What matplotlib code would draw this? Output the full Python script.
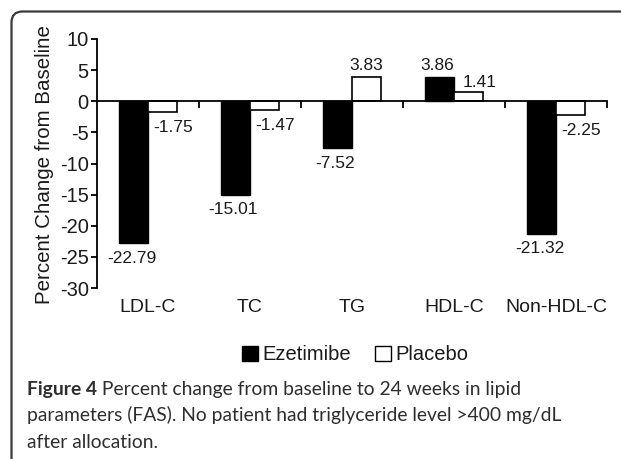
import numpy as np
import matplotlib
matplotlib.use('Agg')
import matplotlib.pyplot as plt
from matplotlib.patches import Patch, FancyBboxPatch
from matplotlib.transforms import IdentityTransform, blended_transform_factory

# Dados
categorias = ['LDL-C', 'TC', 'TG', 'HDL-C', 'Non-HDL-C']
ezetimibe = [-22.79, -15.01, -7.52, 3.86, -21.32]
placebo = [-1.75, -1.47, 3.83, 1.41, -2.25]
series = ['Ezetimibe', 'Placebo']
yticks = [10, 5, 0, -5, -10, -15, -20, -25, -30]

legenda_fig = 'Figure 4'
legenda_txt = [' Percent change from baseline to 24 weeks in lipid',
               'parameters (FAS). No patient had triglyceride level >400 mg/dL',
               'after allocation.']

plt.rcParams['font.family'] = ['Liberation Sans', 'DejaVu Sans']
cor_txt = '#1a1a1a'

fig = plt.figure(figsize=(6.21, 4.59), dpi=100)

# moldura arredondada (em pixels)
moldura = FancyBboxPatch((11.5, -30), 660, 459 - 11.5 + 30,
                         boxstyle='round,pad=0,rounding_size=11',
                         transform=IdentityTransform(), fill=False,
                         edgecolor='#3a3a3a', linewidth=1.6)
fig.patches.append(moldura)

ax = fig.add_axes([97 / 621, 1 - 288 / 459, 510 / 621, 249 / 459])

x = np.arange(len(categorias))
w = 0.285
b1 = ax.bar(x - w / 2, ezetimibe, w, color='black', edgecolor='black', linewidth=1.0)
b2 = ax.bar(x + w / 2, placebo, w, color='white', edgecolor='black', linewidth=1.2)

ax.set_xlim(-0.5, len(categorias) - 0.5)
ax.set_ylim(-30, 10)
ax.set_yticks(yticks)
ax.set_yticklabels([str(t) for t in yticks], fontsize=14.5, color=cor_txt)
ax.tick_params(axis='y', direction='out', length=4, width=1.3, pad=2)

ax.spines['top'].set_visible(False)
ax.spines['right'].set_visible(False)
ax.spines['left'].set_linewidth(1.3)
ax.spines['bottom'].set_position(('data', 0))
ax.spines['bottom'].set_linewidth(1.3)
ax.set_xticks(x + 0.5)
ax.set_xticklabels([])
ax.tick_params(axis='x', direction='out', length=5, width=1.3)

trans = blended_transform_factory(ax.transData, ax.transAxes)
for xi, nome in zip(x, categorias):
    ax.text(xi, -0.077, nome, transform=trans, ha='center', va='center',
            fontsize=14, color=cor_txt)

# rótulos de valores
for barras, vals, serie in [(b1, ezetimibe, 0), (b2, placebo, 1)]:
    for r, v in zip(barras, vals):
        cx = r.get_x() + r.get_width() / 2
        dx = -2 if serie == 0 else 0
        if serie == 1 and abs(v) < 3:
            dx = 11
        dy = 12 if v > 0 else -15
        if serie == 1 and 0 < v < 3:
            dy = 10
        ax.annotate(f'{v:.2f}', (cx, v), xytext=(dx, dy), textcoords='offset pixels',
                    ha='center', va='center', fontsize=12.5, color=cor_txt)

ax.set_ylabel('Percent Change from Baseline', fontsize=14.8, color=cor_txt)
ax.yaxis.set_label_coords(-0.085, 0.495)

handles = [Patch(facecolor='black', edgecolor='black'),
           Patch(facecolor='white', edgecolor='black', linewidth=1.0)]
fig.legend(handles, series, loc='center', bbox_to_anchor=(355 / 621, 1 - 355 / 459),
           ncol=2, frameon=False, fontsize=14.5, handlelength=0.8, handleheight=0.8,
           handletextpad=0.2, columnspacing=1.2, labelcolor=cor_txt)

# legenda da figura
cor_cap = '#2e2e2e'
t0 = fig.text(27 / 621, 1 - 395 / 459, legenda_fig, fontsize=13.9, fontweight='bold',
              family='Lato', color=cor_cap, va='baseline')
fig.canvas.draw()
ax.annotate(legenda_txt[0], xy=(1, 0), xycoords=t0, va='bottom', ha='left',
            fontsize=13.9, family='Lato', color=cor_cap, annotation_clip=False)
for i, linha in enumerate(legenda_txt[1:]):
    fig.text(27 / 621, 1 - (395 + 26.5 * (i + 1)) / 459, linha, fontsize=13.9,
             family='Lato', color=cor_cap, va='baseline')

fig.savefig('out.png', dpi=100)
